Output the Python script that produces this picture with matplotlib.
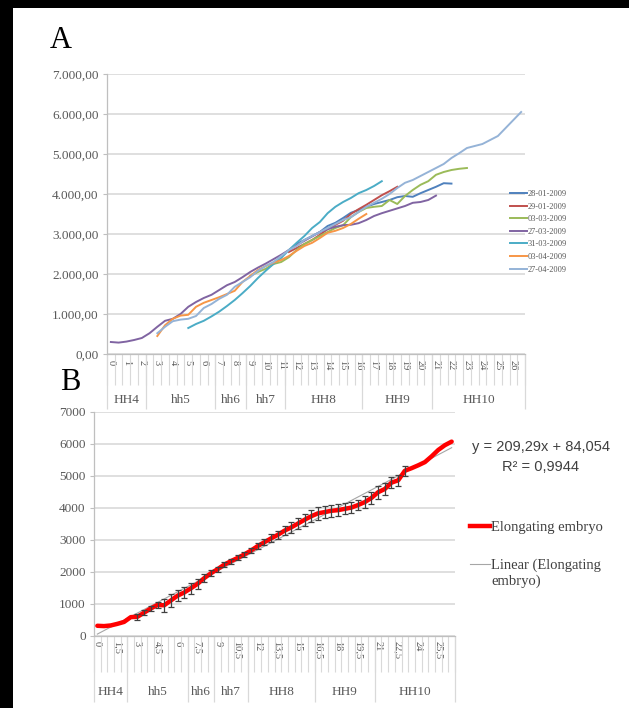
import numpy as np
import matplotlib
matplotlib.use("Agg")
import matplotlib.pyplot as plt
from matplotlib.lines import Line2D
from matplotlib.patches import Rectangle
from matplotlib.ticker import FuncFormatter

SERIF = "Liberation Serif"
TXT = "#595959"
GRID = "#D9D9D9"
AXIS = "#BFBFBF"

plt.rcParams["font.family"] = [SERIF, "DejaVu Sans"]

# category axis: hours of elongation, half-hour steps, grouped by HH stage
hours = np.arange(0, 27, 0.5)
stages = ["HH4", "hh5", "hh6", "hh7", "HH8", "HH9", "HH10"]
stage_len = [5, 9, 4, 5, 10, 9, 12]

# panel A: individual embryos (first category, values every 0.5 h)
dates = ["28-01-2009", "29-01-2009", "03-03-2009", "27-03-2009",
         "31-03-2009", "03-04-2009", "27-04-2009"]
colors = ["#4F81BD", "#C0504D", "#9BBB59", "#8064A2",
          "#4BACC6", "#F79646", "#95B3D7"]
starts = [12.0, 11.5, 9.0, 0.0, 5.0, 3.0, 3.0]

emb_2801 = [2750, 2850, 2950, 3050, 3200, 3280, 3400, 3530, 3600, 3680, 3750,
            3800, 3850, 3920, 3950, 3930, 4020, 4100, 4180, 4270, 4260]
emb_2901 = [2550, 2650, 2750, 2850, 2980, 3120, 3230, 3330, 3500, 3620, 3730,
            3850, 3970, 4070, 4180]
emb_0303 = [1950, 2050, 2130, 2250, 2300, 2420, 2600, 2750, 2850, 2950, 3050,
            3150, 3220, 3420, 3550, 3650, 3680, 3700, 3850, 3750, 3950, 4100,
            4230, 4320, 4480, 4550, 4600, 4630, 4650]
emb_2703 = [300, 285, 310, 350, 400, 520, 680, 830, 880, 1000, 1180, 1300,
            1400, 1480, 1600, 1720, 1800, 1920, 2050, 2160, 2260, 2370, 2480,
            2600, 2720, 2830, 2940, 3050, 3120, 3180, 3220, 3230, 3270, 3350,
            3450, 3520, 3580, 3640, 3700, 3780, 3800, 3850, 3960]
emb_3103 = [650, 750, 830, 940, 1060, 1200, 1350, 1520, 1700, 1900, 2080,
            2250, 2400, 2600, 2780, 2950, 3150, 3300, 3520, 3680, 3800, 3900,
            4020, 4100, 4200, 4320]
emb_0304 = [450, 720, 880, 960, 980, 1180, 1280, 1350, 1420, 1500, 1580,
            1800, 1950, 2100, 2200, 2280, 2350, 2450, 2580, 2700, 2780, 2900,
            3030, 3080, 3150, 3250, 3380, 3500]
emb_2704 = [520, 680, 820, 860, 880, 950, 1150, 1250, 1380, 1480, 1680, 1800,
            1920, 2080, 2200, 2300, 2450, 2600, 2700, 2850, 2950, 3050, 3150,
            3250, 3350, 3420, 3550, 3680, 3780, 3880, 4000, 4150, 4280, 4350,
            4450, 4550, 4650, 4750, 4900, 5020, 5150, 5200, 5250, 5350, 5450,
            5650, 5850, 6050]
embryos = [emb_2801, emb_2901, emb_0303, emb_2703, emb_3103, emb_0304, emb_2704]

# panel B: mean elongation and error bars (error bars start at 3 h)
mean_len = [310, 300, 320, 370, 430, 580, 590, 720, 850, 960, 950, 1100,
            1250, 1350, 1480, 1620, 1800, 1950, 2080, 2220, 2330, 2430, 2540,
            2660, 2800, 2920, 3040, 3150, 3280, 3380, 3500, 3620, 3730, 3820,
            3860, 3900, 3920, 3960, 4000, 4080, 4170, 4300, 4480, 4580, 4780,
            4850, 5150, 5230, 5320, 5420, 5600, 5800, 5950, 6060]
err_start = 3.0
err_len = [100, 80, 80, 100, 200, 200, 180, 180, 170, 150, 120, 100, 80, 70,
           80, 80, 80, 80, 100, 100, 120, 130, 150, 170, 170, 180, 180, 200,
           200, 180, 180, 170, 170, 170, 180, 200, 200, 200, 180, 180, 150]


def category_axis(ax, every, tick_h, sep_h, label_y, fmt):
    trans = ax.get_xaxis_transform()
    edges = np.append(hours - 0.25, hours[-1] + 0.25)
    ax.vlines(edges, -tick_h, 0, transform=trans, colors=GRID, lw=0.8,
              clip_on=False)
    bounds = np.concatenate([[0], np.cumsum(stage_len)]) * 0.5 - 0.25
    ax.vlines(bounds, -sep_h, 0, transform=trans, colors=GRID, lw=0.9,
              clip_on=False)
    for name, a, b in zip(stages, bounds[:-1], bounds[1:]):
        ax.text((a + b) / 2, -label_y, name, transform=trans, ha="center",
                va="center", fontsize=9.5, color=TXT)
    ticks = hours[::every]
    ax.set_xticks(ticks)
    ax.set_xticklabels([fmt(h) for h in ticks], rotation=270, fontsize=7.5,
                       color=TXT)
    ax.tick_params(axis="x", length=0, pad=4)
    ax.set_xlim(hours[0] - 0.25, hours[-1] + 0.25)


def value_axis(ax, fmt):
    ax.set_ylim(0, 7000)
    ax.set_yticks(np.arange(0, 7001, 1000))
    ax.yaxis.set_major_formatter(FuncFormatter(fmt))
    ax.tick_params(axis="y", length=3, color=AXIS, labelsize=9.5,
                   labelcolor=TXT, pad=3)
    ax.yaxis.grid(True, color=GRID, lw=1.2)
    ax.set_axisbelow(True)
    for side in ("top", "right"):
        ax.spines[side].set_visible(False)
    for side in ("left", "bottom"):
        ax.spines[side].set_color(AXIS)
        ax.spines[side].set_linewidth(0.9)


def excel_num(v, p):
    s = f"{v:,.2f}"
    return s.replace(",", " ").replace(".", ",").replace(" ", ".")


fig = plt.figure(figsize=(6.29, 7.08), dpi=100)
fig.patch.set_facecolor("white")

# ---- A ----
axA = fig.add_axes([107 / 629, 1 - 354 / 708, 418 / 629, 280 / 708])
for vals, start, col, lab in zip(embryos, starts, colors, dates):
    x = start + 0.5 * np.arange(len(vals))
    axA.plot(x, vals, color=col, lw=1.4, label=lab)
value_axis(axA, excel_num)
category_axis(axA, 2, 0.11, 0.195, 0.165, lambda h: f"{h:g}")
axA.legend(loc="upper left", bbox_to_anchor=(510 / 629, 1 - 190 / 708),
           bbox_transform=fig.transFigure, frameon=False, fontsize=6,
           handlelength=2.0, handletextpad=0.15, labelspacing=0.55,
           borderpad=0, borderaxespad=0, labelcolor=TXT)

# ---- B ----
axB = fig.add_axes([94 / 629, 1 - 635.7 / 708, 361 / 629, 224.2 / 708])
slope, icpt = np.polyfit(hours, mean_len, 1)
axB.plot(hours, slope * hours + icpt, color="#A6A6A6", lw=0.8, zorder=3)
axB.plot(hours, mean_len, color="#FF0000", lw=3.2, zorder=4,
         solid_capstyle="round", solid_joinstyle="round")
ex = err_start + 0.5 * np.arange(len(err_len))
ey = np.array(mean_len)[np.searchsorted(hours, ex)]
axB.errorbar(ex, ey, yerr=err_len, fmt="none", ecolor="#404040",
             elinewidth=0.9, capsize=2, capthick=0.9, zorder=5)
value_axis(axB, lambda v, p: f"{v:.0f}")
category_axis(axB, 3, 0.16, 0.295, 0.25, lambda h: f"{h:g}".replace(".", ","))

# legend of B, laid out like the Excel one (handle beside first text line)
legend_b = [("Elongating embryo", "#FF0000", 3.2, 526),
            ("Linear (Elongating\nembryo)", "#A6A6A6", 0.8, 564)]
for text, col, lw, ypx in legend_b:
    y = 1 - ypx / 708
    fig.add_artist(Line2D([470 / 629, 490 / 629], [y, y], color=col, lw=lw,
                          transform=fig.transFigure))
    fig.text(491 / 629, y + 5 / 708, text, ha="left", va="top", fontsize=10.5,
             color="#404040", linespacing=1.15)

fig.text(541 / 629, 1 - 447 / 708, "y = 209,29x + 84,054", ha="center",
         va="center", fontsize=10.5, family="Liberation Sans", color="#404040")
fig.text(541 / 629, 1 - 467 / 708, "R² = 0,9944", ha="center", va="center",
         fontsize=10.5, family="Liberation Sans", color="#404040")

fig.text(61 / 629, 1 - 40 / 708, "A", fontsize=22, ha="center", va="center")
fig.text(70 / 629, 1 - 383 / 708, "B", fontsize=22, ha="center", va="center")

# black page edges (top and left)
fig.add_artist(Rectangle((0, 1 - 8 / 708), 1, 8 / 708,
                         transform=fig.transFigure, color="black", lw=0))
fig.add_artist(Rectangle((0, 0), 13 / 629, 1,
                         transform=fig.transFigure, color="black", lw=0))

fig.savefig("out.png", dpi=100, facecolor="white")
